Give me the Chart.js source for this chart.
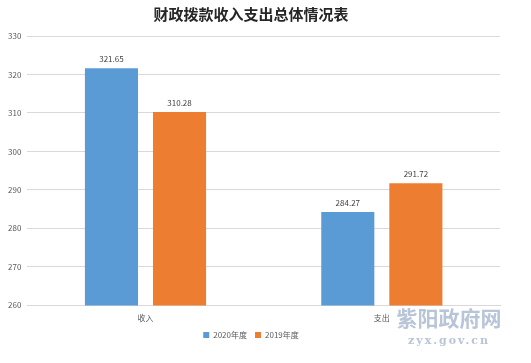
<!DOCTYPE html>
<html><head><meta charset="utf-8">
<script src="https://cdn.jsdelivr.net/npm/chart.js@4/dist/chart.umd.min.js"></script>
<style>html,body{margin:0;padding:0;background:#fff;}#wrap{width:531px;height:363px;position:relative;}</style>
</head><body><div id="wrap"><canvas id="c" width="531" height="363"></canvas></div>
<script>
const categories = ['收入', '支出'];
const series2020 = [321.65, 284.27];
const series2019 = [310.28, 291.72];
const seriesNames = ['2020年度', '2019年度'];
const yTicks = [260, 270, 280, 290, 300, 310, 320, 330];

const FONT = '"Noto Sans CJK SC", "Noto Sans", sans-serif';

const labelPlugin = {
  id: 'labels',
  afterDatasetsDraw(chart) {
    const ctx = chart.ctx;
    ctx.save();
    ctx.font = '8px ' + FONT;
    ctx.fillStyle = '#404040';
    ctx.textAlign = 'center';
    ctx.textBaseline = 'bottom';
    chart.data.datasets.forEach((ds, i) => {
      chart.getDatasetMeta(i).data.forEach((bar, j) => {
        ctx.fillText(ds.data[j].toFixed(2), bar.x, bar.y - 5);
      });
    });
    ctx.restore();
  }
};
const watermark = {
  id: 'watermark',
  afterDraw(chart) {
    const ctx = chart.ctx;
    ctx.save();
    ctx.fillStyle = 'rgba(160,176,202,0.75)';
    ctx.textAlign = 'center';
    ctx.textBaseline = 'middle';
    ctx.font = 'bold 21px ' + FONT;
    ctx.fillText('紫阳政府网', 449, 318);
    ctx.font = 'bold 11px "DejaVu Serif", serif';
    ctx.letterSpacing = '2px';
    ctx.fillText('zyx.gov.cn', 449, 341);
    ctx.restore();
  }
};

new Chart(document.getElementById('c'), {
  type: 'bar',
  data: {
    labels: categories,
    datasets: [
      { label: seriesNames[0], data: series2020, backgroundColor: '#5b9bd5', borderWidth: 0 },
      { label: seriesNames[1], data: series2019, backgroundColor: '#ed7d31', borderWidth: 0 }
    ]
  },
  options: {
    responsive: false,
    animation: false,
    devicePixelRatio: 1,
    categoryPercentage: 0.576,
    barPercentage: 0.78,
    layout: { padding: { left: 2, right: 31, top: 0, bottom: 14 } },
    plugins: {
      title: {
        display: true, text: '财政拨款收入支出总体情况表',
        color: '#262626', font: { family: FONT, size: 15, weight: 'bold' },
        padding: { top: 5, bottom: 13 }
      },
      legend: {
        position: 'bottom',
        labels: { boxWidth: 6, boxHeight: 6, color: '#595959', font: { family: FONT, size: 8 }, padding: 8 }
      },
      tooltip: { enabled: false }
    },
    scales: {
      y: {
        min: 260, max: 330,
        afterBuildTicks(scale) { scale.ticks = yTicks.map(v => ({ value: v })); },
        grid: { color: '#d9d9d9', drawTicks: false },
        border: { display: false },
        ticks: { color: '#595959', font: { family: FONT, size: 8 }, padding: 6 }
      },
      x: {
        grid: { display: false },
        border: { color: '#d9d9d9' },
        ticks: { color: '#595959', font: { family: FONT, size: 8 }, padding: 0 }
      }
    }
  },
  plugins: [labelPlugin, watermark]
});
</script></body></html>
